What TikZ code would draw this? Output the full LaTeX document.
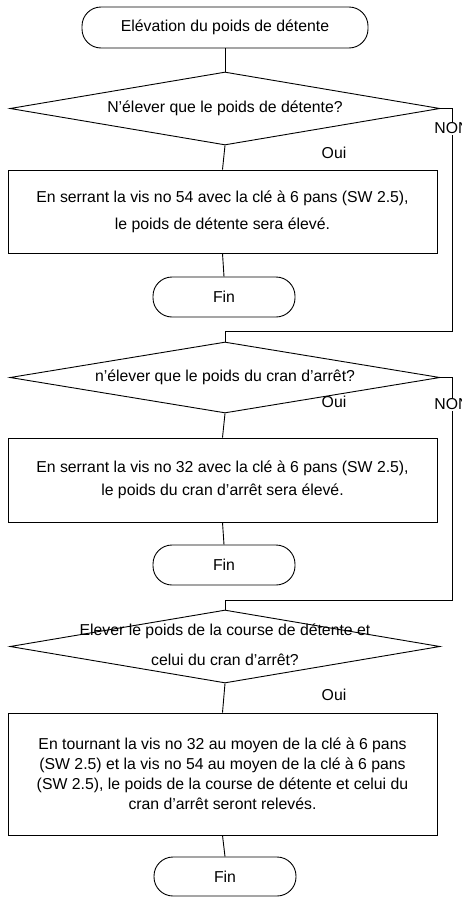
\documentclass[tikz,border=0pt]{standalone}
\usepackage{fontspec}
\setmainfont{Liberation Sans}
\usetikzlibrary{shapes.geometric}
\tikzset{
  x=1pt,y=-1pt,
  every node/.style={font=\fontsize{15.8}{20}\selectfont},
  terminal/.style={draw,line width=0.9pt,rectangle,rounded corners=19pt,minimum width=142pt,minimum height=40pt,inner sep=0pt},
  decision/.style={draw,line width=0.9pt,diamond,minimum width=430pt,minimum height=73pt,inner sep=0pt},
  action/.style={draw,line width=0.9pt,rectangle,minimum width=429pt,inner sep=0pt,align=center},
  txt/.style={inner sep=0pt,align=center},
  lab/.style={inner sep=1pt,fill=white},
  conn/.style={line width=0.9pt}
}
\begin{document}
\begin{tikzpicture}
\useasboundingbox (0,0) rectangle (462,897);
% block 1
\node[terminal,minimum width=286pt,minimum height=41pt] (start) at (225,27.5) {El\'evation du poids de d\'etente};
\node[decision] (d1) at (225,108.5) {};
\node[txt] (d1t) at (225,108) {N'\'elever que le poids de d\'etente?};
\node[action,minimum height=83pt,font=\fontsize{15.8}{27}\selectfont] (b1) at (222.5,211.5) {En serrant la vis no 54 avec la cl\'e \`a 6 pans (SW 2.5),\\le poids de d\'etente sera \'elev\'e.};
\node[terminal] (f1) at (224,297) {Fin};
\node[txt] (o1) at (334,153) {Oui};
\coordinate (r1) at (452,108.5);
\coordinate (j1) at (225,331);
% block 2
\node[decision,minimum height=71pt] (d2) at (225,377.5) {};
\node[txt] (d2t) at (225,377) {n'\'elever que le poids du cran d'arr\^et?};
\node[action,minimum height=84pt,font=\fontsize{15.8}{23}\selectfont] (b2) at (222.5,480) {En serrant la vis no 32 avec la cl\'e \`a 6 pans (SW 2.5),\\le poids du cran d'arr\^et sera \'elev\'e.};
\node[terminal] (f2) at (224,565) {Fin};
\node[txt] (o2) at (334,402) {Oui};
\coordinate (r2) at (452,377.5);
\coordinate (j2) at (225,600);
% block 3
\node[decision] (d3) at (225,646.5) {};
\node[txt,font=\fontsize{15.8}{30}\selectfont] (d3t) at (225,645) {Elever le poids de la course de d\'etente et\\celui du cran d'arr\^et?};
\node[action,minimum height=122pt] (b3) at (222.5,774) {En tournant la vis no 32 au moyen de la cl\'e \`a 6 pans\\(SW 2.5) et la vis no 54 au moyen de la cl\'e \`a 6 pans\\(SW 2.5), le poids de la course de d\'etente et celui du\\cran d'arr\^et seront relev\'es.};
\node[terminal,minimum height=39pt] (f3) at (225,876.5) {Fin};
\node[txt] (o3) at (334,695) {Oui};
% connectors
\draw[conn] (start.south) -- (d1.north);
\draw[conn] (d1.south) -- (b1.north);
\draw[conn] (b1.south) -- (f1.north);
\draw[conn] (d1.east) -- (r1) -- node[lab,pos=0.09] (n1) {NON} (r1 |- j1) -- (j1) -- (d2.north);
\draw[conn] (d2.south) -- (b2.north);
\draw[conn] (b2.south) -- (f2.north);
\draw[conn] (d2.east) -- (r2) -- node[lab,pos=0.12] (n2) {NON} (r2 |- j2) -- (j2) -- (d3.north);
\draw[conn] (d3.south) -- (b3.north);
\draw[conn] (b3.south) -- (f3.north);
\end{tikzpicture}
\end{document}
